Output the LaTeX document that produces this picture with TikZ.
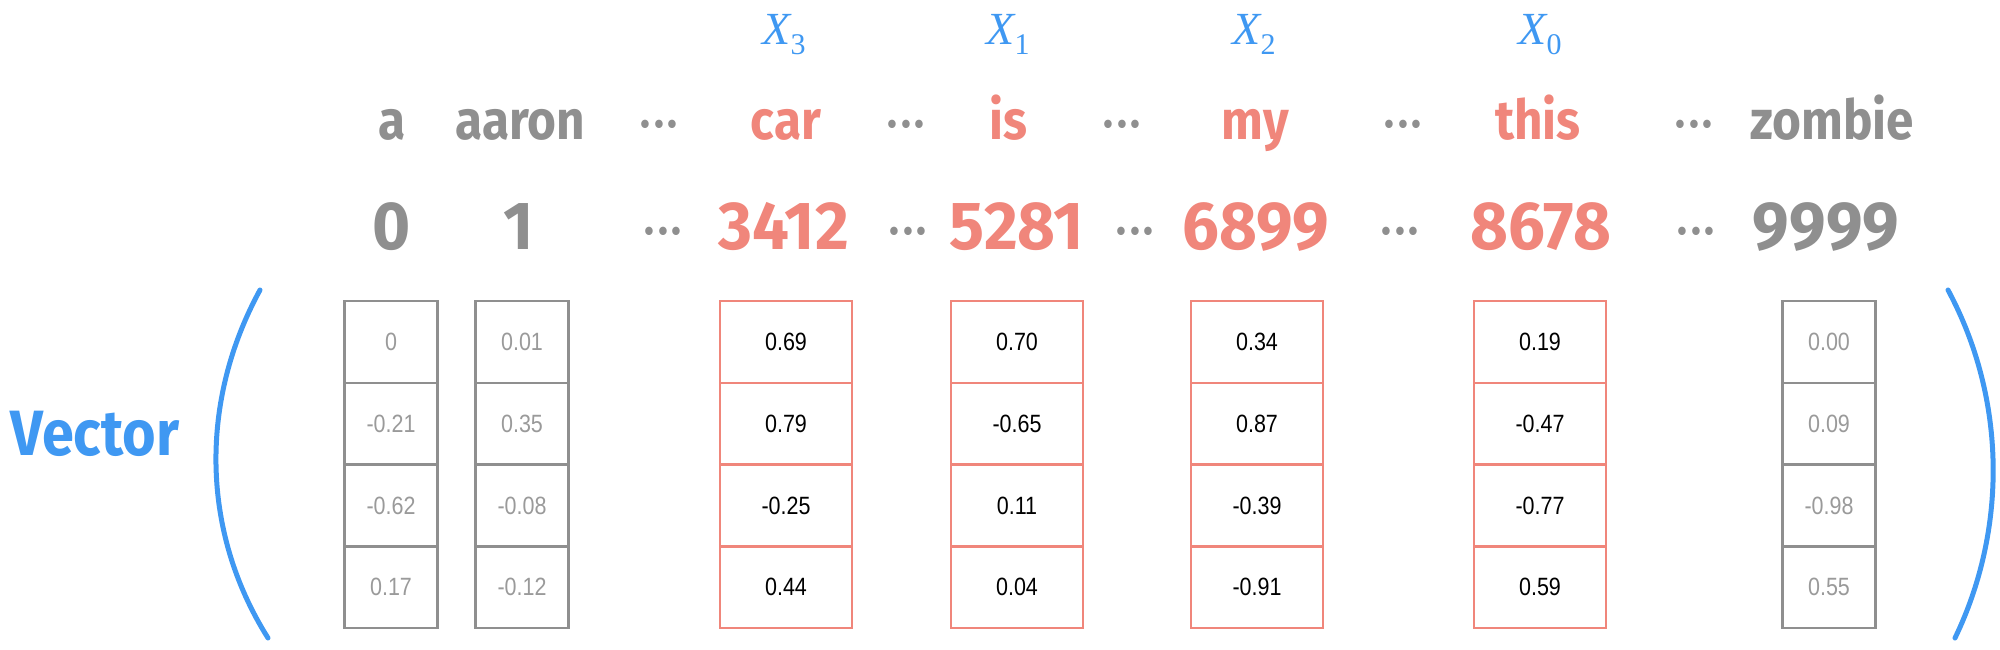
\documentclass[tikz,border=0pt]{standalone}
\usepackage{fontspec}
\setmainfont{Liberation Sans}
\newfontfamily\wordfont[FakeStretch=0.9]{Fira Sans}
\newfontfamily\indexfont[FakeStretch=0.96]{Fira Sans}
\newfontfamily\cellfont[FakeStretch=0.86]{Liberation Sans}
\newfontfamily\tagfont{Liberation Serif}
\usepackage{xcolor}
\usepackage{tikz}
\usetikzlibrary{positioning}
\definecolor{myred}{HTML}{F0867B}
\definecolor{mygray}{HTML}{8F8F8F}
\definecolor{myblue}{HTML}{3F98F2}
\definecolor{celltext}{HTML}{9A9A9A}
\newcommand{\xlab}[1]{{\itshape X}\lower 10pt\hbox{\fontsize{30}{30}\selectfont #1}}
\newcommand{\skipdots}{{\wordfont\bfseries\fontsize{46}{46}\selectfont ·\kern4pt·\kern4pt·}}
\tikzstyle{word} = [anchor=base, inner sep=0pt, font=\wordfont\bfseries\fontsize{55}{55}\selectfont]
\tikzstyle{index} = [anchor=base, inner sep=0pt, font=\indexfont\bfseries\fontsize{68}{68}\selectfont]
\tikzstyle{dots} = [anchor=base, inner sep=0pt, text=mygray]
\tikzstyle{tag} = [anchor=base, inner sep=0pt, text=myblue, font=\tagfont\fontsize{46}{46}\selectfont]
\tikzstyle{cell} = [rectangle, line width=2.4pt, outer sep=0pt, minimum height=81.75pt, inner sep=0pt, font=\cellfont\fontsize{25}{25}\selectfont]
\tikzstyle{graycell} = [cell, draw=mygray, text=celltext, minimum width=93pt]
\tikzstyle{redcell} = [cell, draw=myred, text=black, minimum width=132pt]
\tikzstyle{paren} = [myblue, line width=5pt, line cap=round]

\begin{document}
\begin{tikzpicture}[x=1pt, y=-1pt]
    \useasboundingbox (0,0) rectangle (2000,650);
    % blue tags of the chosen words
    \node (t3) [tag] at (784,45) {\xlab{3}};
    \node (t1) [tag] at (1008,45) {\xlab{1}};
    \node (t2) [tag] at (1254,45) {\xlab{2}};
    \node (t0) [tag] at (1540,45) {\xlab{0}};
    % vocabulary words
    \node (w-a) [word, text=mygray] at (392,140) {a};
    \node (w-aaron) [word, text=mygray] at (520,140) {aaron};
    \node (w-d1) [dots] at (659,139) {\skipdots};
    \node (w-car) [word, text=myred] at (786,140) {car};
    \node (w-d2) [dots] at (906,139) {\skipdots};
    \node (w-is) [word, text=myred] at (1008,140) {is};
    \node (w-d3) [dots] at (1122,139) {\skipdots};
    \node (w-my) [word, text=myred] at (1255,140) {my};
    \node (w-d4) [dots] at (1403,139) {\skipdots};
    \node (w-this) [word, text=myred] at (1538,140) {this};
    \node (w-d5) [dots] at (1694,139) {\skipdots};
    \node (w-zombie) [word, text=mygray] at (1832,140) {zombie};
    % indices
    \node (n-0) [index, text=mygray] at (392,249) {0};
    \node (n-1) [index, text=mygray] at (519,249) {1};
    \node (n-d1) [dots] at (663,245) {\skipdots};
    \node (n-car) [index, text=myred] at (784,249) {3412};
    \node (n-d2) [dots] at (908,245) {\skipdots};
    \node (n-is) [index, text=myred] at (1017,249) {5281};
    \node (n-d3) [dots] at (1135,245) {\skipdots};
    \node (n-my) [index, text=myred] at (1256,249) {6899};
    \node (n-d4) [dots] at (1400,245) {\skipdots};
    \node (n-this) [index, text=myred] at (1541,249) {8678};
    \node (n-d5) [dots] at (1696,245) {\skipdots};
    \node (n-zombie) [index, text=mygray] at (1826,249) {9999};
    % embedding columns
    \foreach \name/\xc/\kind/\a/\b/\c/\d in {
        a/391/graycell/0/-0.21/-0.62/0.17,
        aaron/522/graycell/0.01/0.35/-0.08/-0.12,
        car/786/redcell/0.69/0.79/-0.25/0.44,
        is/1017/redcell/0.70/-0.65/0.11/0.04,
        my/1257/redcell/0.34/0.87/-0.39/-0.91,
        this/1540/redcell/0.19/-0.47/-0.77/0.59,
        zombie/1829/graycell/0.00/0.09/-0.98/0.55} {
        \node (\name-1) [\kind] at (\xc,342) {\a};
        \node (\name-2) [\kind, below=0pt of \name-1] {\b};
        \node (\name-3) [\kind, below=0pt of \name-2] {\c};
        \node (\name-4) [\kind, below=0pt of \name-3] {\d};
    }
    \node (vec) [anchor=base, text=myblue, font=\wordfont\bfseries\fontsize{64}{64}\selectfont] at (95,455) {Vector};
    % brackets
    \draw[paren] (260,290) .. controls (200,400) and (200,530) .. (268,638);
    \draw[paren] (1948,290) .. controls (2007,400) and (2007,530) .. (1955,638);
\end{tikzpicture}
\end{document}
